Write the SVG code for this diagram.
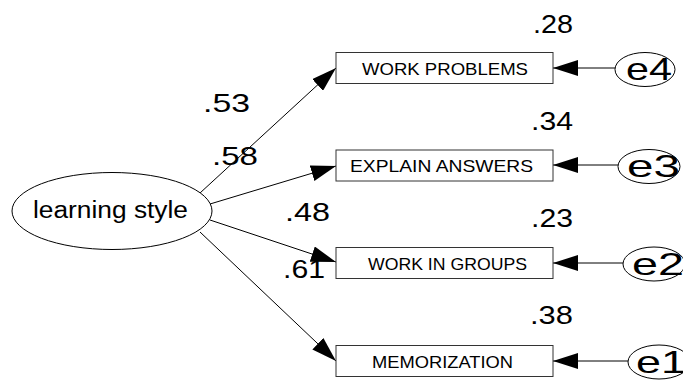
<svg xmlns="http://www.w3.org/2000/svg" width="683" height="380" viewBox="0 0 683 380">
<style>
  .bg{fill:#fff}
  .box{fill:#fff;stroke:#333;stroke-width:1}
  .ell{fill:#fff;stroke:#000;stroke-width:1}
  .con{stroke:#000;stroke-width:1;fill:none;marker-end:url(#ah)}
  text{font-family:"Liberation Sans",Arial,sans-serif;fill:#000}
  .lbl{font-size:17px}
  .num{font-size:26px}
  .err{font-size:32px}
  .lat{font-size:23px}
</style>
<defs>
  <marker id="ah" markerUnits="userSpaceOnUse" markerWidth="25" markerHeight="16" refX="25" refY="8" orient="auto">
    <path d="M0,0 L25,8 L0,16 z" fill="#000"/>
  </marker>
</defs>
<rect class="bg" x="0" y="0" width="683" height="380"/>
<g id="connectors">
  <line class="con" x1="200" y1="193" x2="336" y2="68"/>
  <line class="con" x1="210" y1="204" x2="336" y2="166"/>
  <line class="con" x1="210" y1="220" x2="336" y2="262"/>
  <line class="con" x1="200" y1="232" x2="336" y2="361"/>
  <line class="con" x1="615" y1="68" x2="553" y2="68"/>
  <line class="con" x1="618" y1="165" x2="553" y2="165"/>
  <line class="con" x1="623" y1="263" x2="553" y2="263"/>
  <line class="con" x1="628" y1="361" x2="553" y2="361"/>
</g>
<g id="learning-style">
  <ellipse class="ell" cx="112" cy="211" rx="100" ry="38.5"/>
  <text class="lat" x="33" y="218" textLength="155" lengthAdjust="spacingAndGlyphs">learning style</text>
</g>
<g id="work-problems">
  <rect class="box" x="336" y="52.5" width="217" height="31"/>
  <text class="lbl" x="362" y="74.5" textLength="166" lengthAdjust="spacingAndGlyphs">WORK PROBLEMS</text>
</g>
<g id="explain-answers">
  <rect class="box" x="336" y="150" width="217" height="31"/>
  <text class="lbl" x="350" y="172" textLength="183" lengthAdjust="spacingAndGlyphs">EXPLAIN ANSWERS</text>
</g>
<g id="work-in-groups">
  <rect class="box" x="336" y="247.5" width="217" height="31"/>
  <text class="lbl" x="368" y="269.5" textLength="159" lengthAdjust="spacingAndGlyphs">WORK IN GROUPS</text>
</g>
<g id="memorization">
  <rect class="box" x="336" y="345.5" width="217" height="31"/>
  <text class="lbl" x="372" y="367.5" textLength="141" lengthAdjust="spacingAndGlyphs">MEMORIZATION</text>
</g>
<g id="e4">
  <ellipse class="ell" cx="645" cy="69.5" rx="30" ry="17"/>
  <text class="err" x="626" y="80" textLength="46" lengthAdjust="spacingAndGlyphs">e4</text>
</g>
<g id="e3">
  <ellipse class="ell" cx="649" cy="166.5" rx="31" ry="17"/>
  <text class="err" x="627" y="177" textLength="53" lengthAdjust="spacingAndGlyphs">e3</text>
</g>
<g id="e2">
  <ellipse class="ell" cx="654" cy="264" rx="31" ry="17"/>
  <text class="err" x="632" y="275" textLength="52" lengthAdjust="spacingAndGlyphs">e2</text>
</g>
<g id="e1">
  <ellipse class="ell" cx="659" cy="362" rx="31" ry="17"/>
  <text class="err" x="636" y="373" textLength="50" lengthAdjust="spacingAndGlyphs">e1</text>
</g>
<g id="estimates">
  <text class="num" x="533" y="33" textLength="40" lengthAdjust="spacingAndGlyphs">.28</text>
  <text class="num" x="531" y="130" textLength="42" lengthAdjust="spacingAndGlyphs">.34</text>
  <text class="num" x="531" y="227" textLength="42" lengthAdjust="spacingAndGlyphs">.23</text>
  <text class="num" x="530" y="324" textLength="43" lengthAdjust="spacingAndGlyphs">.38</text>
  <text class="num" x="203" y="112" textLength="47" lengthAdjust="spacingAndGlyphs">.53</text>
  <text class="num" x="212" y="165" textLength="46" lengthAdjust="spacingAndGlyphs">.58</text>
  <text class="num" x="285" y="221" textLength="45" lengthAdjust="spacingAndGlyphs">.48</text>
  <text class="num" x="283" y="278" textLength="42" lengthAdjust="spacingAndGlyphs">.61</text>
</g>
</svg>
